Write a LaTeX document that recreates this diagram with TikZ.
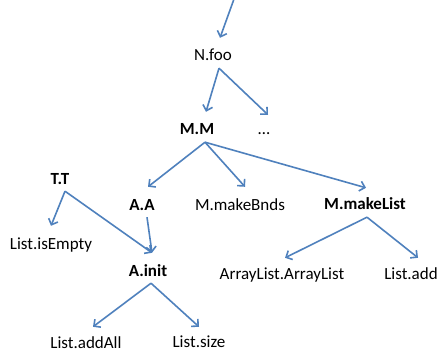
\documentclass[tikz,border=0pt]{standalone}
\usepackage{fontspec}
\setmainfont{Carlito}
\usetikzlibrary{arrows.meta,calc}
\definecolor{callblue}{RGB}{79,129,189}

\begin{document}
\begin{tikzpicture}[x=1pt,y=-1pt,
  >={Straight Barb[length=5pt,width=10pt]},
  call/.style={->,draw=callblue,line width=1.6pt},
  meth/.style={inner sep=0pt,text height=11pt,text depth=0pt,font=\fontsize{17}{20}\selectfont},
  hot/.style={meth,font=\fontsize{17}{20}\selectfont\bfseries}]

\useasboundingbox[fill=white] (0,0) rectangle (438,358);

% Methods
\coordinate (in) at (234,-1);
\node[meth] (nfoo) at (213,55) {N.foo};
\node[hot] (mm) at (197,129) {M.M};
\node[meth] (dots) at (264,129.5) {…};
\node[hot] (tt) at (60,179) {T.T};
\node[hot] (aa) at (142,205) {A.A};
\node[meth] (bnds) at (240,205) {M.makeBnds};
\node[hot] (mklist) at (365,204) {M.makeList};
\node[meth] (empty) at (51,244) {List.isEmpty};
\node[hot] (ainit) at (148,271) {A.init};
\node[meth] (alist) at (282,274) {ArrayList.ArrayList};
\node[meth] (ladd) at (411,274) {List.add};
\node[meth] (addall) at (86,343) {List.addAll};
\node[meth] (lsize) at (199,342) {List.size};

% Calls
\draw[call] (in) -- ($(nfoo.north)+(7,-11.5)$);
\draw[call] ($(nfoo.south)+(6,7.5)$) -- ($(mm.north)+(9,-11.5)$);
\draw[call] ($(nfoo.south)+(6,7.5)$) -- ($(dots.north)+(4,-9)$);
\draw[call] ($(mm.south)+(8,7.5)$) -- ($(aa.north)+(6,-12.5)$);
\draw[call] ($(mm.south)+(8,7.5)$) -- ($(bnds.north)+(5,-12.5)$);
\draw[call] ($(mm.south)+(8,7.5)$) -- ($(mklist.north)+(1,-10.5)$);
\draw[call] ($(tt.south)+(5,6.5)$) -- ($(empty.north)+(0,-12.5)$);
\draw[call] ($(tt.south)+(5,6.5)$) -- ($(ainit.north)+(4,-12.5)$);
\draw[call] ($(aa.south)+(5,6.5)$) -- ($(ainit.north)+(4,-12.5)$);
\draw[call] ($(mklist.south)+(2,7.5)$) -- ($(alist.north)+(3,-10.5)$);
\draw[call] ($(mklist.south)+(2,7.5)$) -- ($(ladd.north)+(7,-10.5)$);
\draw[call] ($(ainit.south)+(3,6.5)$) -- ($(addall.north)+(7,-10.5)$);
\draw[call] ($(ainit.south)+(3,6.5)$) -- ($(lsize.north)+(0,-9.5)$);

\end{tikzpicture}
\end{document}
